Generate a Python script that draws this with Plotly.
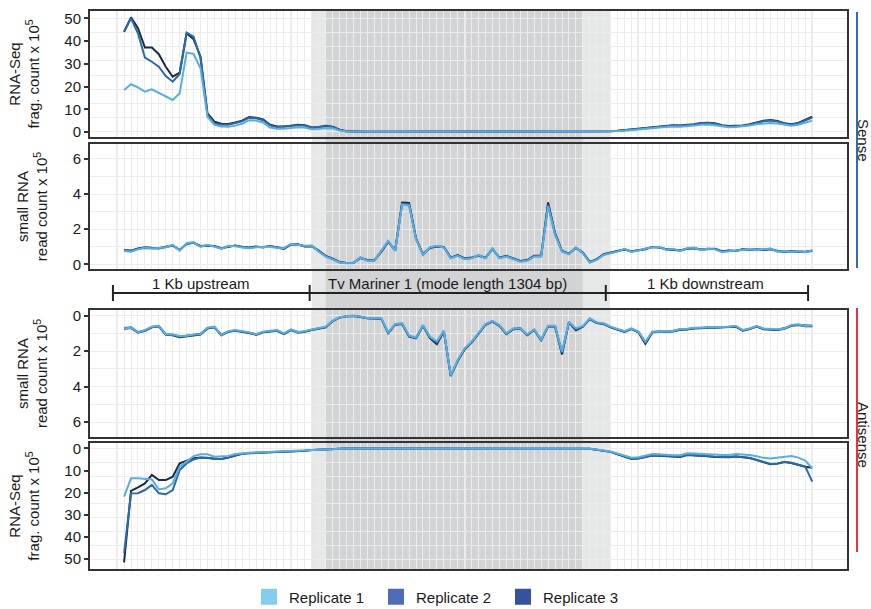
import plotly.graph_objects as go

# ---------------- data ----------------
BINS = list(range(1, 101))
REPLICATES = ["Replicate 1", "Replicate 2", "Replicate 3"]

sense_rna_rep1 = [18.5, 21.0, 19.6, 17.7, 18.8, 17.3, 15.5, 14.1, 17.0, 34.9,
                  34.3, 28.0, 6.7, 3.1, 2.4, 2.3, 2.8, 3.6, 5.2, 5.0,
                  4.2, 2.0, 1.4, 1.4, 1.8, 2.1, 2.0, 1.2, 1.3, 1.8,
                  1.6, 0.7, 0.2, 0.1, 0.1, 0.1, 0.1, 0.1, 0.1, 0.1,
                  0.1, 0.1, 0.1, 0.1, 0.1, 0.1, 0.1, 0.1, 0.1, 0.1,
                  0.1, 0.1, 0.1, 0.1, 0.1, 0.1, 0.1, 0.1, 0.1, 0.1,
                  0.1, 0.1, 0.1, 0.1, 0.1, 0.1, 0.1, 0.1, 0.1, 0.2,
                  0.3, 0.4, 0.6, 0.8, 1.1, 1.4, 1.7, 2.0, 2.3, 2.4,
                  2.3, 2.4, 2.8, 3.2, 3.3, 3.0, 2.4, 2.1, 2.2, 2.4,
                  2.8, 3.4, 3.8, 4.0, 3.7, 3.1, 2.8, 3.2, 4.1, 5.0]
sense_rna_rep2 = [44.1, 50.0, 43.4, 32.7, 30.9, 28.7, 24.6, 22.1, 25.5, 43.7,
                  41.9, 32.4, 7.5, 3.8, 3.2, 3.2, 3.9, 4.7, 6.3, 6.0,
                  5.2, 2.9, 2.1, 2.2, 2.6, 3.0, 2.8, 1.8, 2.0, 2.5,
                  2.1, 0.9, 0.3, 0.1, 0.1, 0.1, 0.1, 0.1, 0.1, 0.1,
                  0.1, 0.1, 0.1, 0.1, 0.1, 0.1, 0.1, 0.1, 0.1, 0.1,
                  0.1, 0.1, 0.1, 0.1, 0.1, 0.1, 0.1, 0.1, 0.1, 0.1,
                  0.1, 0.1, 0.1, 0.1, 0.1, 0.1, 0.1, 0.1, 0.1, 0.2,
                  0.3, 0.5, 0.7, 0.9, 1.3, 1.7, 2.0, 2.4, 2.7, 2.8,
                  2.7, 2.8, 3.2, 3.8, 3.9, 3.6, 2.8, 2.4, 2.5, 2.7,
                  3.2, 4.0, 4.7, 5.1, 4.6, 3.7, 3.2, 3.8, 5.0, 6.3]
sense_rna_rep3 = [44.1, 50.4, 45.6, 37.1, 37.1, 34.2, 28.7, 24.3, 26.1, 43.4,
                  40.8, 33.1, 8.2, 4.5, 3.6, 3.5, 4.2, 5.0, 6.6, 6.3,
                  5.5, 3.2, 2.4, 2.4, 2.8, 3.2, 3.0, 2.0, 2.2, 2.7,
                  2.3, 1.0, 0.3, 0.15, 0.1, 0.1, 0.1, 0.1, 0.1, 0.1,
                  0.1, 0.1, 0.1, 0.1, 0.1, 0.1, 0.1, 0.1, 0.1, 0.1,
                  0.1, 0.1, 0.1, 0.1, 0.1, 0.1, 0.1, 0.1, 0.1, 0.1,
                  0.1, 0.1, 0.1, 0.1, 0.1, 0.1, 0.1, 0.1, 0.1, 0.2,
                  0.3, 0.5, 0.8, 1.0, 1.4, 1.8, 2.1, 2.5, 2.8, 3.0,
                  2.9, 3.0, 3.4, 4.0, 4.1, 3.8, 3.0, 2.6, 2.7, 2.9,
                  3.4, 4.2, 4.9, 5.3, 4.8, 3.9, 3.4, 4.0, 5.2, 6.7]

srna_s_rep1 = [0.76, 0.72, 0.85, 0.95, 0.90, 0.93, 0.97, 1.10, 0.78, 1.20,
               1.26, 1.00, 1.10, 1.00, 0.88, 1.05, 1.03, 0.95, 0.92, 0.97,
               1.00, 1.00, 0.93, 0.92, 1.16, 1.10, 1.05, 1.07, 0.72, 0.44,
               0.29, 0.10, 0.06, 0.06, 0.40, 0.20, 0.20, 0.75, 1.33, 0.76,
               3.40, 3.35, 1.43, 0.53, 0.97, 1.05, 0.95, 0.34, 0.48, 0.29,
               0.34, 0.53, 0.34, 0.91, 0.34, 0.44, 0.29, 0.15, 0.20, 0.44,
               0.44, 3.30, 1.68, 0.72, 0.57, 0.97, 0.63, 0.10, 0.25, 0.53,
               0.63, 0.72, 0.88, 0.70, 0.78, 0.90, 0.95, 1.00, 0.82, 0.88,
               0.75, 0.92, 0.95, 0.80, 0.90, 0.85, 0.70, 0.75, 0.80, 0.82,
               0.85, 0.80, 0.86, 0.90, 0.72, 0.76, 0.70, 0.75, 0.68, 0.80]
srna_s_rep2 = [0.78, 0.75, 0.88, 0.93, 0.92, 0.90, 0.98, 1.08, 0.80, 1.18,
               1.24, 1.02, 1.08, 1.02, 0.90, 1.03, 1.05, 0.97, 0.93, 0.99,
               0.98, 1.02, 0.95, 0.90, 1.14, 1.12, 1.03, 1.05, 0.75, 0.46,
               0.30, 0.12, 0.07, 0.07, 0.38, 0.22, 0.21, 0.73, 1.30, 0.78,
               3.45, 3.42, 1.45, 0.55, 0.95, 1.03, 0.97, 0.36, 0.50, 0.31,
               0.36, 0.51, 0.36, 0.89, 0.36, 0.46, 0.31, 0.17, 0.22, 0.46,
               0.46, 3.40, 1.72, 0.74, 0.59, 0.95, 0.65, 0.12, 0.27, 0.55,
               0.65, 0.74, 0.86, 0.72, 0.80, 0.88, 0.97, 0.98, 0.84, 0.86,
               0.77, 0.90, 0.93, 0.82, 0.88, 0.87, 0.72, 0.77, 0.78, 0.84,
               0.83, 0.82, 0.84, 0.88, 0.74, 0.74, 0.72, 0.73, 0.70, 0.78]
srna_s_rep3 = [0.80, 0.78, 0.90, 0.97, 0.94, 0.92, 1.00, 1.06, 0.82, 1.16,
               1.22, 1.04, 1.06, 1.04, 0.92, 1.01, 1.07, 0.99, 0.95, 1.01,
               0.96, 1.04, 0.97, 0.88, 1.12, 1.14, 1.01, 1.03, 0.78, 0.48,
               0.32, 0.13, 0.08, 0.08, 0.36, 0.24, 0.22, 0.71, 1.28, 0.80,
               3.52, 3.50, 1.48, 0.57, 0.93, 1.01, 0.99, 0.38, 0.52, 0.33,
               0.38, 0.49, 0.38, 0.87, 0.38, 0.48, 0.33, 0.19, 0.24, 0.48,
               0.48, 3.52, 1.78, 0.76, 0.61, 0.93, 0.67, 0.14, 0.29, 0.57,
               0.67, 0.76, 0.84, 0.74, 0.82, 0.86, 0.99, 0.96, 0.86, 0.84,
               0.79, 0.88, 0.91, 0.84, 0.86, 0.89, 0.74, 0.79, 0.76, 0.86,
               0.81, 0.84, 0.82, 0.86, 0.76, 0.72, 0.74, 0.71, 0.72, 0.76]

srna_a_rep1 = [0.72, 0.68, 0.94, 0.81, 0.62, 0.57, 1.06, 1.05, 1.15, 1.13,
               1.06, 1.04, 0.68, 0.62, 1.09, 0.87, 0.81, 0.87, 0.94, 1.06,
               0.90, 0.85, 0.81, 1.00, 0.77, 0.94, 0.87, 0.77, 0.70, 0.62,
               0.28, 0.09, 0.02, 0.00, 0.05, 0.13, 0.13, 0.15, 0.94, 0.47,
               0.43, 1.13, 1.23, 0.53, 1.19, 1.45, 0.85, 3.36, 2.50, 1.85,
               1.47, 1.00, 0.47, 0.30, 0.53, 1.00, 0.72, 0.72, 1.06, 0.77,
               1.34, 0.57, 0.57, 2.04, 0.34, 0.72, 0.58, 0.15, 0.38, 0.43,
               0.62, 0.75, 0.87, 0.72, 0.90, 1.47, 0.90, 0.90, 0.88, 0.87,
               0.75, 0.74, 0.68, 0.67, 0.67, 0.66, 0.62, 0.62, 0.58, 0.81,
               0.72, 0.58, 0.72, 0.75, 0.77, 0.72, 0.53, 0.49, 0.58, 0.55]
srna_a_rep2 = [0.70, 0.66, 0.92, 0.83, 0.64, 0.59, 1.04, 1.07, 1.18, 1.15,
               1.08, 1.02, 0.70, 0.64, 1.07, 0.89, 0.83, 0.89, 0.96, 1.04,
               0.92, 0.87, 0.83, 1.02, 0.79, 0.92, 0.89, 0.79, 0.72, 0.64,
               0.30, 0.10, 0.03, 0.01, 0.06, 0.14, 0.15, 0.17, 0.96, 0.49,
               0.45, 1.15, 1.25, 0.55, 1.22, 1.50, 0.87, 3.38, 2.52, 1.87,
               1.49, 1.02, 0.49, 0.32, 0.55, 1.02, 0.74, 0.70, 1.08, 0.79,
               1.36, 0.59, 0.59, 2.08, 0.36, 0.76, 0.60, 0.17, 0.40, 0.45,
               0.64, 0.77, 0.89, 0.74, 0.92, 1.50, 0.92, 0.88, 0.90, 0.85,
               0.77, 0.76, 0.70, 0.69, 0.65, 0.68, 0.64, 0.60, 0.60, 0.83,
               0.74, 0.60, 0.74, 0.77, 0.79, 0.70, 0.55, 0.51, 0.56, 0.57]
srna_a_rep3 = [0.74, 0.70, 0.96, 0.85, 0.66, 0.60, 1.08, 1.10, 1.22, 1.17,
               1.10, 1.06, 0.72, 0.66, 1.11, 0.91, 0.85, 0.91, 0.98, 1.08,
               0.94, 0.89, 0.85, 1.04, 0.81, 0.96, 0.91, 0.81, 0.74, 0.66,
               0.31, 0.11, 0.04, 0.02, 0.07, 0.15, 0.16, 0.18, 0.98, 0.51,
               0.47, 1.18, 1.28, 0.57, 1.26, 1.60, 0.89, 3.40, 2.55, 1.90,
               1.51, 1.04, 0.51, 0.34, 0.57, 1.04, 0.76, 0.74, 1.10, 0.81,
               1.38, 0.61, 0.61, 2.18, 0.38, 0.82, 0.62, 0.19, 0.42, 0.47,
               0.66, 0.79, 0.91, 0.76, 0.94, 1.58, 0.94, 0.92, 0.92, 0.89,
               0.79, 0.78, 0.72, 0.71, 0.69, 0.70, 0.66, 0.64, 0.62, 0.85,
               0.76, 0.62, 0.76, 0.79, 0.81, 0.74, 0.57, 0.53, 0.60, 0.59]

rna_a_rep1 = [21.8, 13.5, 13.5, 13.6, 14.0, 18.5, 18.0, 15.8, 8.3, 6.0,
              3.5, 2.7, 2.7, 3.75, 3.7, 3.4, 2.6, 2.2, 2.0, 1.9,
              1.8, 1.7, 1.6, 1.5, 1.4, 1.2, 1.0, 0.8, 0.6, 0.4,
              0.3, 0.2, 0.1, 0.1, 0.1, 0.1, 0.1, 0.1, 0.1, 0.1,
              0.1, 0.1, 0.1, 0.1, 0.1, 0.1, 0.1, 0.1, 0.1, 0.1,
              0.1, 0.1, 0.1, 0.1, 0.1, 0.1, 0.1, 0.1, 0.1, 0.1,
              0.1, 0.1, 0.1, 0.1, 0.1, 0.1, 0.1, 0.2, 0.5, 1.0,
              1.4, 2.3, 3.3, 4.2, 4.0, 3.2, 2.6, 2.7, 3.0, 3.1,
              3.1, 2.2, 2.3, 2.5, 2.8, 3.0, 3.0, 3.0, 2.6, 2.8,
              3.0, 3.6, 4.3, 4.6, 4.2, 3.8, 3.5, 4.2, 5.5, 9.0]
rna_a_rep2 = [47.3, 20.3, 20.2, 18.8, 16.5, 20.3, 20.7, 18.8, 9.8, 6.8,
              5.0, 4.2, 4.2, 4.8, 4.8, 4.2, 3.1, 2.4, 2.1, 2.0,
              1.9, 1.8, 1.7, 1.6, 1.5, 1.3, 1.1, 0.8, 0.6, 0.4,
              0.3, 0.2, 0.1, 0.1, 0.1, 0.1, 0.1, 0.1, 0.1, 0.1,
              0.1, 0.1, 0.1, 0.1, 0.1, 0.1, 0.1, 0.1, 0.1, 0.1,
              0.1, 0.1, 0.1, 0.1, 0.1, 0.1, 0.1, 0.1, 0.1, 0.1,
              0.1, 0.1, 0.1, 0.1, 0.1, 0.1, 0.1, 0.2, 0.6, 1.1,
              1.6, 2.6, 3.7, 4.7, 4.5, 3.7, 3.1, 3.2, 3.5, 3.7,
              3.8, 2.9, 3.0, 3.2, 3.5, 3.8, 3.9, 3.9, 3.6, 3.8,
              4.3, 5.2, 6.3, 7.1, 6.8, 6.1, 6.5, 7.5, 8.2, 15.0]
rna_a_rep3 = [51.4, 19.2, 17.6, 15.8, 12.0, 14.3, 14.3, 12.8, 6.8, 5.6,
              4.5, 4.1, 4.3, 4.4, 4.8, 4.2, 3.2, 2.5, 2.2, 2.0,
              1.9, 1.8, 1.7, 1.6, 1.5, 1.3, 1.1, 0.8, 0.6, 0.4,
              0.3, 0.2, 0.1, 0.1, 0.1, 0.1, 0.1, 0.1, 0.1, 0.1,
              0.1, 0.1, 0.1, 0.1, 0.1, 0.1, 0.1, 0.1, 0.1, 0.1,
              0.1, 0.1, 0.1, 0.1, 0.1, 0.1, 0.1, 0.1, 0.1, 0.1,
              0.1, 0.1, 0.1, 0.1, 0.1, 0.1, 0.1, 0.2, 0.6, 1.1,
              1.6, 2.7, 3.8, 4.8, 4.6, 3.8, 3.2, 3.3, 3.6, 3.8,
              3.9, 3.0, 3.1, 3.3, 3.6, 3.9, 4.0, 4.0, 3.7, 3.9,
              4.4, 5.3, 6.4, 7.2, 6.9, 6.2, 6.6, 7.6, 8.3, 8.8]

# region boundaries (bin units)
REGION_BOUNDS = [-0.6, 27.7, 70.3, 99.4]
REGION_LABELS = ["1 Kb upstream", "Tv Mariner 1 (mode length 1304 bp)", "1 Kb downstream"]
REGION_LABEL_POS = [12.0, 47.5, 84.6]
TE_FLANK_BAND = [28.0, 70.9]
TE_CORE_BAND = [30.0, 67.0]

RNA_TICKS = [0, 10, 20, 30, 40, 50]
RNA_GRID = [0, 6.25, 12.5, 18.75, 25, 31.25, 37.5, 43.75, 50]
SRNA_TICKS = [0, 2, 4, 6]
SRNA_MINOR = [1, 3, 5]
X_MAJOR = [0, 25, 50, 75, 100]
X_MINOR = list(range(0, 101))

# ---------------- styling ----------------
LINE_COLORS = ["#58ADE1", "#2C6AA5", "#1B2A44"]
LEGEND_COLORS = ["#84CDEC", "#4E6DB6", "#3750A0"]
FONT = "Liberation Sans, Arial, sans-serif"
TXT = "#1a1a1a"
FRAME = "#333333"
GRID = "#ececec"

panels = [
    ([sense_rna_rep1, sense_rna_rep2, sense_rna_rep3], "RNA-Seq<br>frag. count x 10<sup>5</sup>",
     [1.0, 0.7742], [-2.2, 53.2], RNA_TICKS, None, RNA_GRID),
    ([srna_s_rep1, srna_s_rep2, srna_s_rep3], "small RNA<br>read count x 10<sup>5</sup>",
     [0.7616, 0.5376], [-0.27, 6.85], SRNA_TICKS, True, SRNA_MINOR),
    ([srna_a_rep1, srna_a_rep2, srna_a_rep3], "small RNA<br>read count x 10<sup>5</sup>",
     [0.4642, 0.2366], [6.83, -0.32], SRNA_TICKS, True, SRNA_MINOR),
    ([rna_a_rep1, rna_a_rep2, rna_a_rep3], "RNA-Seq<br>frag. count x 10<sup>5</sup>",
     [0.2258, 0.0], [54.4, -2.4], RNA_TICKS, None, RNA_GRID),
]

fig = go.Figure()
layout = {}
for k, (series, title, dom, yr, ticks, major_grid, grid_minor) in enumerate(panels):
    n = "" if k == 0 else str(k + 1)
    for r in [2, 1, 0]:
        fig.add_trace(go.Scatter(
            x=BINS, y=series[r], mode="lines", name=REPLICATES[r],
            line=dict(color=LINE_COLORS[r], width=2),
            xaxis="x" + n, yaxis="y" + n, showlegend=False, hoverinfo="skip"))
    layout["xaxis" + n] = dict(
        domain=[0, 1], anchor="y" + n, range=[-3.9, 105.0],
        tickvals=X_MAJOR, showticklabels=False, ticks="",
        showgrid=True, gridcolor=GRID, gridwidth=2, zeroline=False,
        minor=dict(tickvals=X_MINOR, showgrid=True, gridcolor=GRID, gridwidth=1, ticks=""),
        showline=True, mirror=True, linecolor=FRAME, linewidth=2)
    layout["yaxis" + n] = dict(
        domain=[dom[1], dom[0]], anchor="x" + n, range=yr,
        tickvals=ticks, ticks="outside", ticklen=4, tickwidth=1.5, tickcolor=FRAME,
        tickfont=dict(size=15, color=TXT, family=FONT),
        showgrid=bool(major_grid), gridcolor=GRID, gridwidth=1, zeroline=False,
        minor=dict(tickvals=grid_minor, showgrid=True, gridcolor=GRID, gridwidth=1, ticks=""),
        showline=True, mirror=True, linecolor=FRAME, linewidth=2,
        title=dict(text=title, font=dict(size=15, color=TXT, family=FONT), standoff=21))

# legend-only entries
for r in range(3):
    fig.add_trace(go.Scatter(
        x=[None], y=[None], mode="markers", name=REPLICATES[r],
        marker=dict(symbol="square", size=17, color=LEGEND_COLORS[r]),
        showlegend=True))

def py(p):
    return (569 - p) / 558.0

def px(p):
    return (p - 90) / 757.0

shapes = [
    dict(type="rect", xref="x", yref="paper", x0=TE_FLANK_BAND[0], x1=TE_FLANK_BAND[1],
         y0=0, y1=1, fillcolor="#e6e7e7", line=dict(width=0), layer="below"),
    dict(type="rect", xref="x", yref="paper", x0=TE_CORE_BAND[0], x1=TE_CORE_BAND[1],
         y0=0, y1=1, fillcolor="#d2d3d4", line=dict(width=0), layer="below"),
    dict(type="line", xref="x", yref="paper", x0=REGION_BOUNDS[0], x1=REGION_BOUNDS[-1],
         y0=py(293), y1=py(293), line=dict(color="#222222", width=2)),
    dict(type="line", xref="paper", yref="paper", x0=px(857), x1=px(857),
         y0=py(12), y1=py(268), line=dict(color="#2F6DB5", width=2)),
    dict(type="line", xref="paper", yref="paper", x0=px(857), x1=px(857),
         y0=py(308), y1=py(552), line=dict(color="#E5343B", width=2)),
]
for b in REGION_BOUNDS:
    shapes.append(dict(type="line", xref="x", yref="paper", x0=b, x1=b,
                       y0=py(285), y1=py(301), line=dict(color="#222222", width=2)))

annotations = []
for lab, pos in zip(REGION_LABELS, REGION_LABEL_POS):
    annotations.append(dict(text=lab, x=pos, y=py(283), xref="x", yref="paper",
                            showarrow=False, font=dict(size=15, color=TXT, family=FONT),
                            xanchor="center", yanchor="middle"))
annotations.append(dict(text="Sense", x=px(864), y=py(140), xref="paper", yref="paper",
                        textangle=90, showarrow=False, font=dict(size=15, color=TXT, family=FONT),
                        xanchor="center", yanchor="middle"))
annotations.append(dict(text="Antisense", x=px(864), y=py(435), xref="paper", yref="paper",
                        textangle=90, showarrow=False, font=dict(size=15, color=TXT, family=FONT),
                        xanchor="center", yanchor="middle"))

fig.update_layout(
    width=871, height=609,
    margin=dict(l=90, r=24, t=11, b=40, autoexpand=False),
    paper_bgcolor="white", plot_bgcolor="white",
    font=dict(family=FONT, size=15, color=TXT),
    shapes=shapes, annotations=annotations,
    legend=dict(orientation="h", x=px(249), xanchor="left", y=py(597), yanchor="middle",
                font=dict(size=15, color=TXT, family=FONT), entrywidth=82,
                bgcolor="rgba(0,0,0,0)"),
    **layout)

fig.write_html("out.html", config={"displayModeBar": False},
               post_script="document.body.style.margin='0';document.body.style.padding='0';")
